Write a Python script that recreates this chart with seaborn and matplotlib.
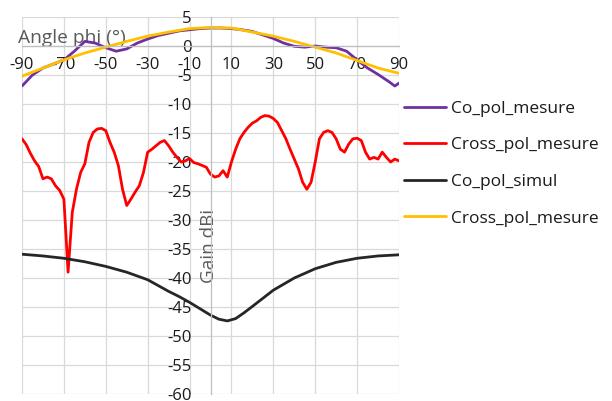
import matplotlib
matplotlib.use("Agg")
import matplotlib.pyplot as plt
import seaborn as sns
import pandas as pd

# ---- data ----
co_mes_angle = [-90, -85, -80, -75, -70, -65, -60, -55, -50, -45, -40, -35, -30, -25, -20, -15, -10, -5, 0,
                5, 10, 15, 20, 25, 30, 35, 40, 45, 50, 55, 60, 65, 70, 75, 80, 85, 88, 90]
co_mes_gain = [-6.9, -5.0, -3.8, -3.1, -2.4, -0.9, 0.8, 0.5, -0.3, -0.9, -0.5, 0.5, 1.2, 1.8, 2.2, 2.6, 2.8, 3.0, 3.1,
               3.1, 3.0, 2.8, 2.5, 1.9, 1.3, 0.5, -0.05, -0.2, 0.0, -0.2, -0.3, -0.9, -2.4, -3.8, -4.9, -6.1, -6.9, -6.4]

cross_mes_angle = list(range(-90, 91, 2))
cross_mes_gain = [-16.0, -17.0, -18.5, -19.8, -20.8, -22.9, -22.6, -22.9, -24.1, -24.9, -26.4,
                  -39.0, -28.7, -24.7, -21.8, -20.3, -16.6, -14.9, -14.3, -14.2, -14.6,
                  -16.6, -18.3, -20.6, -24.7, -27.5, -26.4, -25.2, -24.1, -21.8, -18.3,
                  -17.8, -17.2, -16.6, -16.3, -17.2, -18.3, -19.2, -20.0, -19.8, -19.4,
                  -20.1, -20.3, -20.6, -20.9, -22.1, -22.6, -22.4, -21.5, -22.6, -20.0,
                  -17.8, -16.0, -14.9, -14.0, -13.3, -12.9, -12.3, -12.0, -12.1, -12.5,
                  -13.2, -14.6, -16.0, -17.8, -19.5, -21.2, -23.5, -24.7, -23.5, -20.0,
                  -16.0, -14.9, -14.6, -14.9, -16.0, -17.8, -18.3, -16.9, -16.0, -15.9,
                  -16.3, -18.3, -19.5, -19.2, -19.5, -18.3, -19.2, -20.0, -19.5, -19.8]

co_sim_angle = [-90, -80, -70, -60, -50, -40, -30, -20, -15, -10, -5, 0, 4, 8, 12, 16, 20, 25, 30, 40, 50, 60, 70, 80, 90]
co_sim_gain = [-35.9, -36.2, -36.6, -37.2, -38.0, -39.0, -40.3, -42.3, -43.2, -44.2, -45.3, -46.4, -47.1, -47.4,
               -47.0, -46.0, -44.9, -43.5, -42.1, -40.0, -38.4, -37.3, -36.6, -36.2, -36.0]

cross_mes2_angle = [-90, -80, -70, -60, -50, -40, -30, -20, -10, 0, 10, 20, 30, 40, 50, 60, 70, 80, 90]
cross_mes2_gain = [-5.2, -3.8, -2.4, -1.2, -0.2, 0.8, 1.7, 2.4, 3.0, 3.2, 3.1, 2.4, 1.7, 0.8, -0.2, -1.2, -2.5, -3.8, -4.7]

series_names = ["Co_pol_mesure", "Cross_pol_mesure", "Co_pol_simul", "Cross_pol_mesure"]
series_colors = ["#7030A0", "#FF0000", "#262626", "#FFC000"]
x_ticks = list(range(-90, 91, 20))
y_ticks = list(range(-60, 6, 5))

# ---- plot ----
sns.set_theme(style="white")
plt.rcParams["font.family"] = ["Open Sans", "DejaVu Sans"]
plt.rcParams["axes.unicode_minus"] = False

fig = plt.figure(figsize=(6.12, 4.01), dpi=100)
ax = fig.add_axes([22 / 612, 1 - 394 / 401, 377 / 612, 377 / 401])

data = [(co_mes_angle, co_mes_gain), (cross_mes_angle, cross_mes_gain),
        (co_sim_angle, co_sim_gain), (cross_mes2_angle, cross_mes2_gain)]
for (xs, ys), name, col in zip(data, series_names, series_colors):
    df = pd.DataFrame({"angle": xs, "gain": ys})
    sns.lineplot(data=df, x="angle", y="gain", ax=ax, color=col, linewidth=2.0, label=name, legend=False)

ax.set_xlim(-90, 90)
ax.set_ylim(-60, 5)
ax.set_xticks(x_ticks)
ax.set_yticks(y_ticks)
ax.grid(True, color="#D9D9D9", linewidth=0.9)
ax.set_axisbelow(True)

for s in ["top", "right"]:
    ax.spines[s].set_visible(False)
ax.spines["left"].set_position(("data", 0))
ax.spines["bottom"].set_position(("data", 0))
ax.spines["left"].set_color("#BFBFBF")
ax.spines["bottom"].set_color("#BFBFBF")
ax.spines["left"].set_linewidth(0.9)
ax.spines["bottom"].set_linewidth(0.9)

ax.tick_params(axis="x", length=0, pad=8, labelsize=12, labelcolor="#1a1a1a")
ax.tick_params(axis="y", length=0, pad=13.5, labelsize=12, labelcolor="#1a1a1a")

ax.set_xlabel("Angle phi (°)", fontsize=13.8, color="#595959", ha="left", va="center")
ax.xaxis.set_label_coords(-0.011, 0.944)
ax.set_ylabel("Gain dBi", fontsize=13.6, color="#595959", va="center")
ax.yaxis.set_label_coords(0.495, 0.393)

handles, labels = ax.get_legend_handles_labels()
leg = fig.legend(handles, labels, loc="upper left", bbox_to_anchor=(404 / 612, 1 - 100.5 / 401),
                 frameon=False, fontsize=12.5, handlelength=2.4, handletextpad=0.3, labelspacing=1.18,
                 borderaxespad=0, borderpad=0)
for t in leg.get_texts():
    t.set_color("#1a1a1a")

fig.savefig("out.png", dpi=100)
